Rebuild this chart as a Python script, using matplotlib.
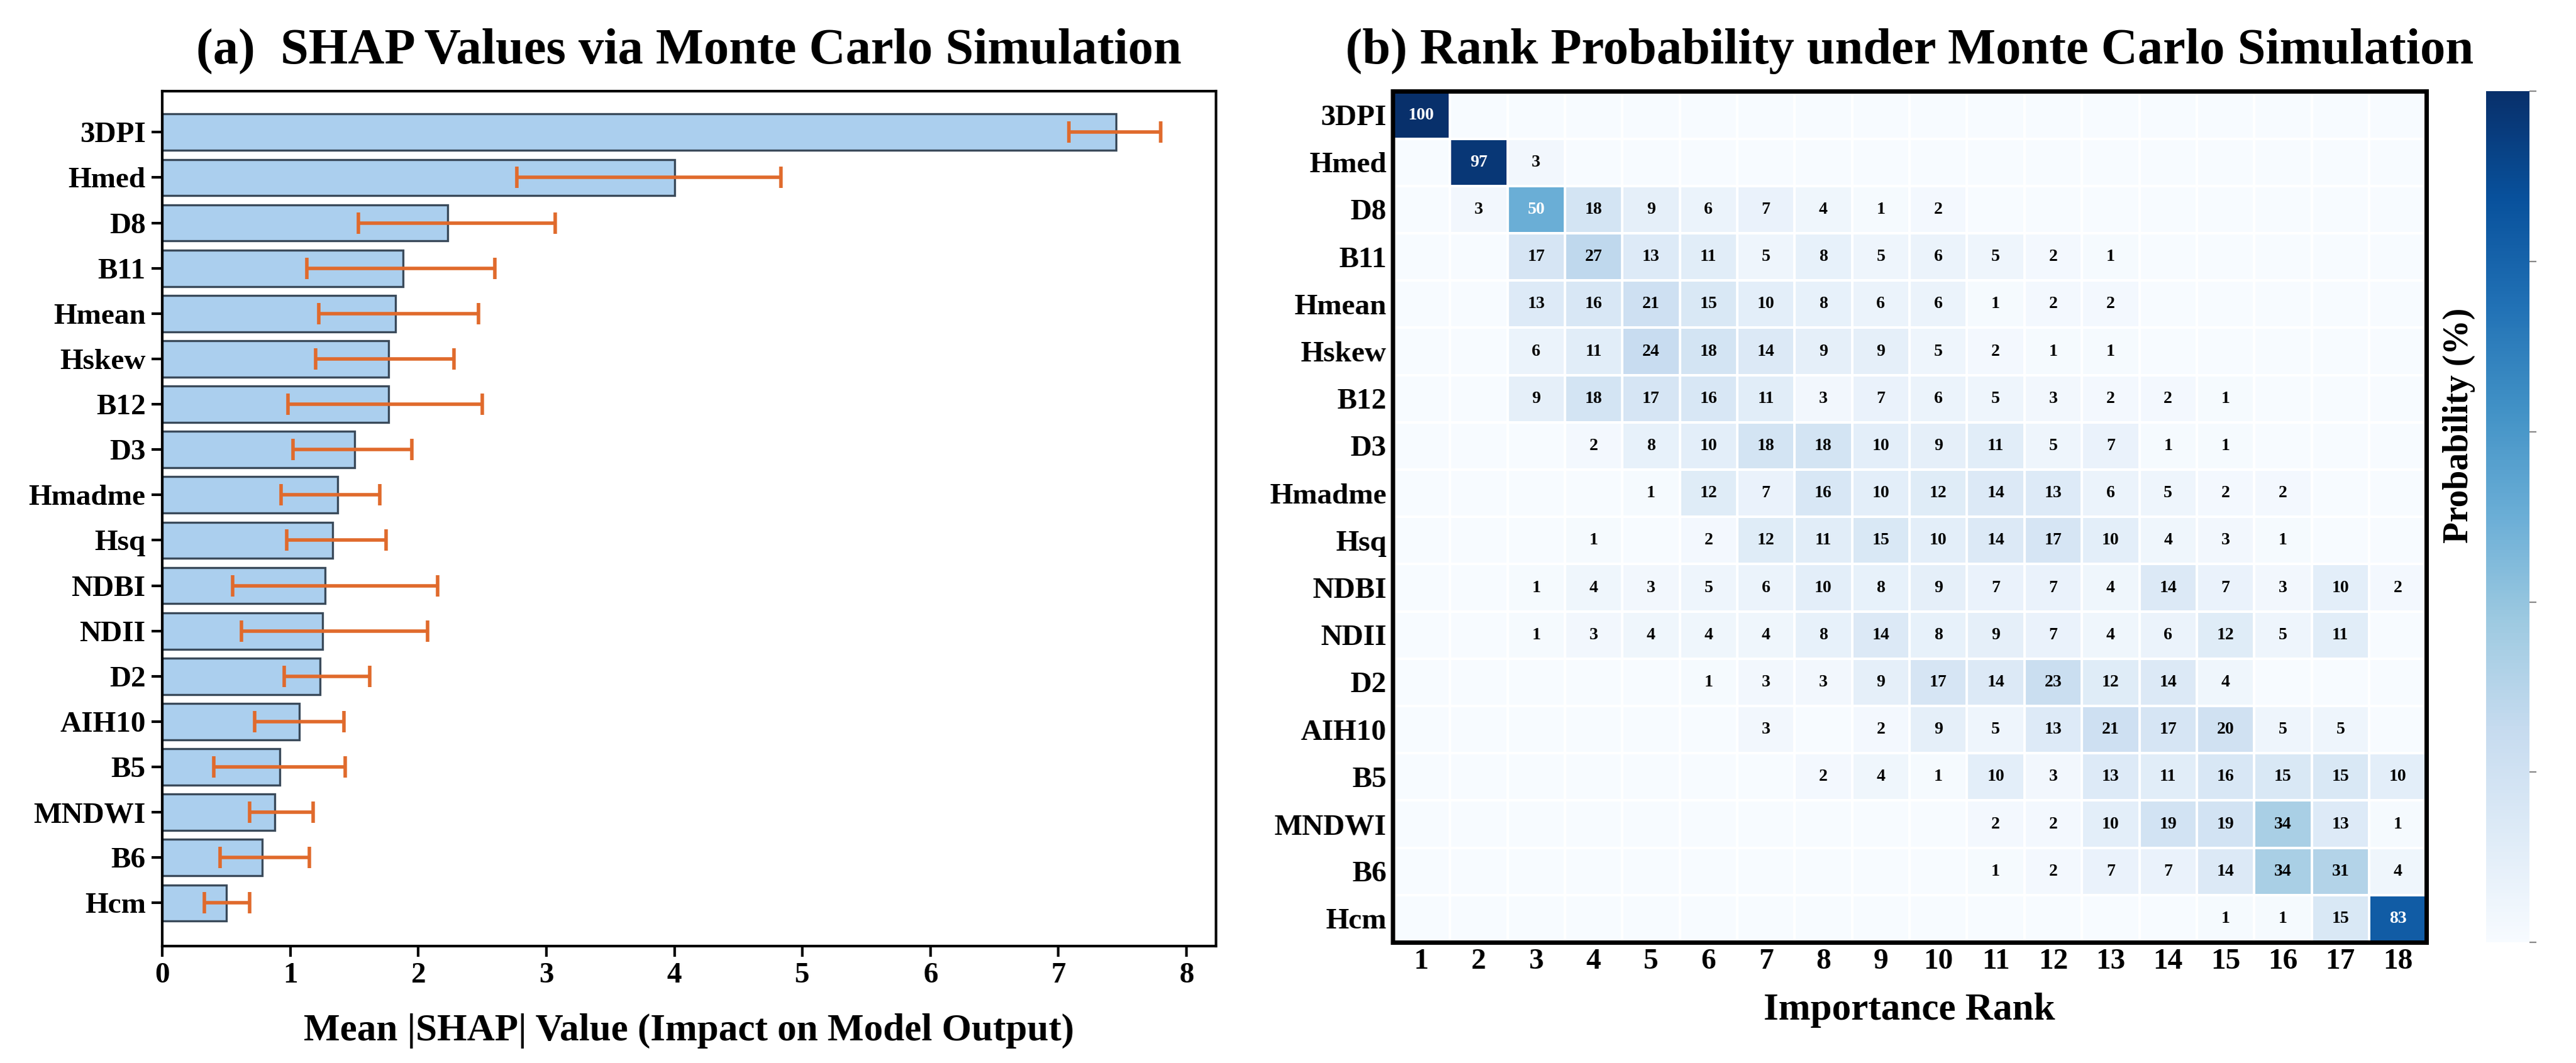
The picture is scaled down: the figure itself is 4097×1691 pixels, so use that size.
import numpy as np
import matplotlib
matplotlib.use("Agg")
import matplotlib.pyplot as plt

plt.rcParams['font.family'] = ['Liberation Serif', 'DejaVu Serif']
plt.rcParams['font.weight'] = 'bold'

features = ["3DPI","Hmed","D8","B11","Hmean","Hskew","B12","D3","Hmadme","Hsq",
            "NDBI","NDII","D2","AIH10","B5","MNDWI","B6","Hcm"]
shap_mean = [7.45,4.0,2.23,1.88,1.82,1.77,1.77,1.50,1.37,1.33,1.27,1.25,1.23,1.07,0.92,0.88,0.78,0.50]
shap_low  = [7.08,2.77,1.53,1.13,1.22,1.20,0.98,1.02,0.93,0.97,0.55,0.62,0.95,0.72,0.40,0.68,0.45,0.33]
shap_high = [7.80,4.83,3.07,2.60,2.47,2.28,2.50,1.95,1.70,1.75,2.15,2.07,1.62,1.42,1.43,1.18,1.15,0.68]

ranks = list(range(1, 19))
rank_prob = {
 "3DPI":  {1:100},
 "Hmed":  {2:97,3:3},
 "D8":    {2:3,3:50,4:18,5:9,6:6,7:7,8:4,9:1,10:2},
 "B11":   {3:17,4:27,5:13,6:11,7:5,8:8,9:5,10:6,11:5,12:2,13:1},
 "Hmean": {3:13,4:16,5:21,6:15,7:10,8:8,9:6,10:6,11:1,12:2,13:2},
 "Hskew": {3:6,4:11,5:24,6:18,7:14,8:9,9:9,10:5,11:2,12:1,13:1},
 "B12":   {3:9,4:18,5:17,6:16,7:11,8:3,9:7,10:6,11:5,12:3,13:2,14:2,15:1},
 "D3":    {4:2,5:8,6:10,7:18,8:18,9:10,10:9,11:11,12:5,13:7,14:1,15:1},
 "Hmadme":{5:1,6:12,7:7,8:16,9:10,10:12,11:14,12:13,13:6,14:5,15:2,16:2},
 "Hsq":   {4:1,6:2,7:12,8:11,9:15,10:10,11:14,12:17,13:10,14:4,15:3,16:1},
 "NDBI":  {3:1,4:4,5:3,6:5,7:6,8:10,9:8,10:9,11:7,12:7,13:4,14:14,15:7,16:3,17:10,18:2},
 "NDII":  {3:1,4:3,5:4,6:4,7:4,8:8,9:14,10:8,11:9,12:7,13:4,14:6,15:12,16:5,17:11},
 "D2":    {6:1,7:3,8:3,9:9,10:17,11:14,12:23,13:12,14:14,15:4},
 "AIH10": {7:3,9:2,10:9,11:5,12:13,13:21,14:17,15:20,16:5,17:5},
 "B5":    {8:2,9:4,10:1,11:10,12:3,13:13,14:11,15:16,16:15,17:15,18:10},
 "MNDWI": {11:2,12:2,13:10,14:19,15:19,16:34,17:13,18:1},
 "B6":    {11:1,12:2,13:7,14:7,15:14,16:34,17:31,18:4},
 "Hcm":   {15:1,16:1,17:15,18:83},
}

fig = plt.figure(figsize=(20.485, 8.455), dpi=200)

# ---- panel (a)
ax1 = fig.add_axes([0.063, 0.11, 0.409, 0.804])
y = np.arange(len(features))
mean = np.array(shap_mean)
xerr = np.vstack([mean - np.array(shap_low), np.array(shap_high) - mean])
ax1.barh(y, mean, height=0.8, color='#abcfee', edgecolor='#3a4a5a', linewidth=1.2)
ax1.errorbar(mean, y, xerr=xerr, fmt='none', ecolor='#e06a2c', elinewidth=2, capsize=6, capthick=2)
ax1.set_yticks(y)
ax1.set_yticklabels(features, fontsize=17, fontweight='bold')
ax1.set_ylim(len(features) - 0.05, -0.9)
ax1.set_xlim(0, 8.23)
ax1.set_xticks(range(0, 9))
ax1.tick_params(axis='x', labelsize=17, length=6, width=1.5)
ax1.tick_params(axis='y', length=6, width=1.5)
for s in ax1.spines.values():
    s.set_linewidth(1.5)
ax1.set_xlabel("Mean |SHAP| Value (Impact on Model Output)", fontsize=22, fontweight='bold', labelpad=14)
ax1.set_title("(a)  SHAP Values via Monte Carlo Simulation", fontsize=29, fontweight='bold', pad=16)

# ---- panel (b)
ax2 = fig.add_axes([0.5406, 0.1135, 0.4014, 0.8005])
M = np.zeros((len(features), len(ranks)))
for i, f in enumerate(features):
    for r, v in rank_prob[f].items():
        M[i, r - 1] = v
im = ax2.pcolormesh(np.arange(len(ranks) + 1) + 0.5, np.arange(len(features) + 1) - 0.5, M,
                    cmap='Blues', vmin=0, vmax=100, edgecolors='white', linewidth=0.8)
ax2.set_xlim(0.5, 18.5)
ax2.set_ylim(len(features) - 0.5, -0.5)
for i, f in enumerate(features):
    for r, v in rank_prob[f].items():
        ax2.text(r, i, f"{v}", ha='center', va='center', fontsize=10, fontweight='bold',
                 color='white' if v >= 45 else 'black')
ax2.set_xticks(ranks)
ax2.set_xticklabels([str(r) for r in ranks], fontsize=17, fontweight='bold')
ax2.set_yticks(range(len(features)))
ax2.set_yticklabels(features, fontsize=17, fontweight='bold')
ax2.tick_params(length=0)
for s in ax2.spines.values():
    s.set_linewidth(2.5)
ax2.set_xlabel("Importance Rank", fontsize=22, fontweight='bold', labelpad=10)
ax2.set_title("(b) Rank Probability under Monte Carlo Simulation", fontsize=29, fontweight='bold', pad=16)

cax = fig.add_axes([0.965, 0.1135, 0.017, 0.8005])
cb = fig.colorbar(im, cax=cax)
cb.set_ticks([0, 20, 40, 60, 80, 100])
cb.ax.set_yticklabels([])
cb.outline.set_visible(False)
cb.ax.tick_params(length=4, color='#888888')
fig.text(0.9545, 0.6, "Probability (%)", rotation=90, ha='center', va='center',
         fontsize=20, fontweight='bold')

fig.savefig("out.png", dpi=200)
